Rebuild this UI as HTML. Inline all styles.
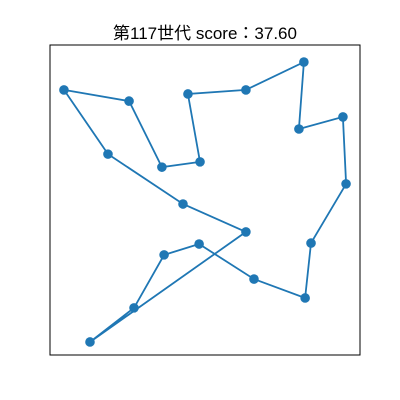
<!DOCTYPE html>
<html><head><meta charset="utf-8"><style>
html,body{margin:0;padding:0;background:#fff;}
svg{display:block;}
</style></head><body>
<svg id="chart" width="400" height="400" xmlns="http://www.w3.org/2000/svg">
<text x="205" y="39" text-anchor="middle" font-family="'Liberation Sans','Noto Sans CJK JP',sans-serif" font-size="17" fill="#000">第117世代 score：37.60</text>
<rect x="50" y="45" width="310" height="310" fill="none" stroke="#000" stroke-width="1"/>
<g id="marks"></g>
</svg>
<script>
const xs = [0.045,0.255,0.361,0.484,0.445,0.632,0.819,0.803,0.945,0.955,0.842,0.823,0.658,0.481,0.368,0.271,0.129,0.632,0.429,0.187];
const ys = [0.855,0.819,0.606,0.623,0.842,0.855,0.945,0.729,0.768,0.552,0.361,0.184,0.245,0.358,0.323,0.152,0.042,0.397,0.487,0.648];
function sx(v){return 50+v*310;}
function sy(v){return 355-v*310;}
const NS='http://www.w3.org/2000/svg';
const g=document.getElementById('marks');
let pts=xs.map((x,i)=>sx(x).toFixed(1)+','+sy(ys[i]).toFixed(1));
pts.push(pts[0]);
const pl=document.createElementNS(NS,'polyline');
pl.setAttribute('points',pts.join(' '));
pl.setAttribute('fill','none');pl.setAttribute('stroke','#1f77b4');pl.setAttribute('stroke-width','1.8');


g.appendChild(pl);
xs.forEach((x,i)=>{
const c=document.createElementNS(NS,'circle');
c.setAttribute('cx',sx(x));c.setAttribute('cy',sy(ys[i]));c.setAttribute('r','4.8');c.setAttribute('fill','#1f77b4');


g.appendChild(c);
});
</script>
</body></html>
